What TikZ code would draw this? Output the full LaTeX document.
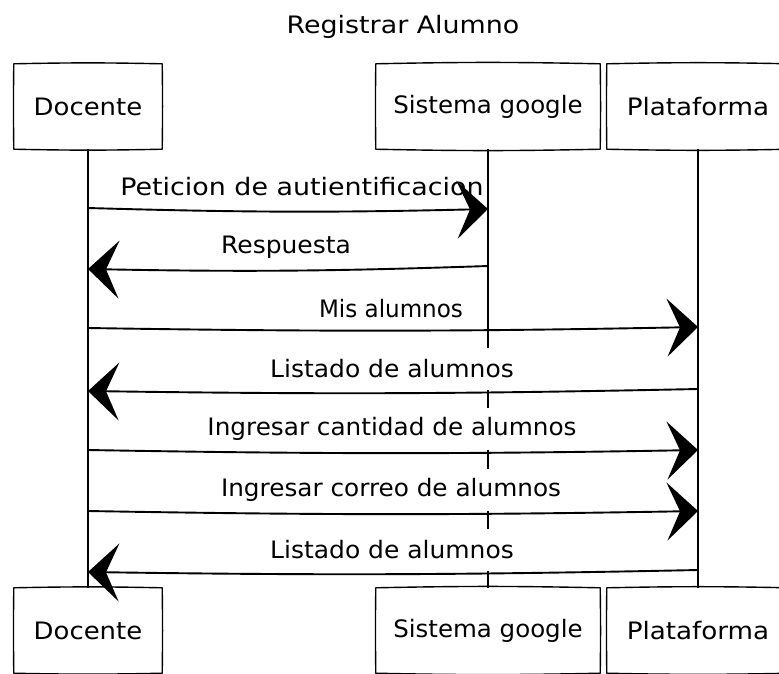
\documentclass[tikz,border=0pt]{standalone}
\usepackage{fontspec}
\setmainfont{DejaVu Sans}
\usetikzlibrary{arrows.meta,calc}
% wide lettering
\newcommand\wide[2][1.05]{\scalebox{#1}[1]{#2}}
\begin{document}
\begin{tikzpicture}[x=1pt,y=-1pt,
  txt/.style={font=\fontsize{24}{28}\selectfont, inner sep=0pt},
  actor/.style={txt, minimum height=85pt},
  outline/.style={line width=1.4pt, line cap=round, line join=round},
  lifeline/.style={line width=1.1pt},
  msglabel/.style={txt, fill=white, inner xsep=2pt, minimum height=42pt, anchor=south},
  msg/.style={line width=1.9pt, line cap=round, -{Stealth[length=31pt,width=58pt,inset=13pt]}},
]
\useasboundingbox (0,0) rectangle (779,673);
\fill[white] (0,0) rectangle (779,673);

% slightly bowed outline around an actor box
\newcommand\sketchoutline[1]{%
  \draw[outline] (#1.north west) to[bend left=1.2] (#1.north east)
    to[bend left=0.8] (#1.south east) to[bend left=1.2] (#1.south west)
    to[bend left=0.8] (#1.north west);}

\node[txt] (title) at (403,27) {\wide[1.12]{Registrar Alumno}};

% actors, top row
\node[actor, minimum width=148pt] (dT) at (88,106.5) {\wide[1.08]{Docente}};
\node[actor, minimum width=224pt] (sT) at (488,106.5) {\wide[1.02]{Sistema google}};
\node[actor, minimum width=182pt] (pT) at (698,106.5) {\wide[1.09]{Plataforma}};
% actors, bottom row
\node[actor, minimum width=148pt] (dB) at (88,630.5) {\wide[1.08]{Docente}};
\node[actor, minimum width=224pt] (sB) at (488,630.5) {\wide[1.02]{Sistema google}};
\node[actor, minimum width=182pt] (pB) at (698,630.5) {\wide[1.09]{Plataforma}};

\foreach \n in {dT,sT,pT,dB,sB,pB} {\sketchoutline{\n}}

% lifelines
\draw[lifeline] (dT.south) -- (dB.north);
\draw[lifeline] (sT.south) -- (sB.north);
\draw[lifeline] (pT.south) -- (pB.north);

% message labels (white boxes hide the lifelines behind them)
\node[msglabel] (l1) at (302,208) {\wide[1.12]{Peticion de autientificacion}};
\node[msglabel] (l2) at (286,268) {\wide[1.04]{Respuesta}};
\node[msglabel] (l3) at (391,330) {\wide[0.96]{Mis alumnos}};
\node[msglabel] (l4) at (392,390) {\wide[1.04]{Listado de alumnos}};
\node[msglabel] (l5) at (392,450) {\wide[1.03]{Ingresar cantidad de alumnos}};
\node[msglabel] (l6) at (391,511) {\wide[1.03]{Ingresar correo de alumnos}};
\node[msglabel] (l7) at (392,571) {\wide[1.04]{Listado de alumnos}};

% message end points on the lifelines
\coordinate (d1) at (dT.south |- 0,208);  \coordinate (s1) at (sT.south |- 0,209);
\coordinate (d2) at (dT.south |- 0,269);  \coordinate (s2) at (sT.south |- 0,266);
\coordinate (d3) at (dT.south |- 0,328);  \coordinate (p3) at (pT.south |- 0,327);
\coordinate (d4) at (dT.south |- 0,391);  \coordinate (p4) at (pT.south |- 0,389);
\coordinate (d5) at (dT.south |- 0,450);  \coordinate (p5) at (pT.south |- 0,450);
\coordinate (d6) at (dT.south |- 0,511);  \coordinate (p6) at (pT.south |- 0,511);
\coordinate (d7) at (dT.south |- 0,572);  \coordinate (p7) at (pT.south |- 0,570);

% messages
\draw[msg] (d1) to[bend right=1.5] (s1);
\draw[msg] (s2) to[bend left=1.5] (d2);
\draw[msg] (d3) to[bend right=1] (p3);
\draw[msg] (p4) to[bend left=1] (d4);
\draw[msg] (d5) to[bend right=1] (p5);
\draw[msg] (d6) to[bend right=1] (p6);
\draw[msg] (p7) to[bend left=1] (d7);
\end{tikzpicture}
\end{document}
